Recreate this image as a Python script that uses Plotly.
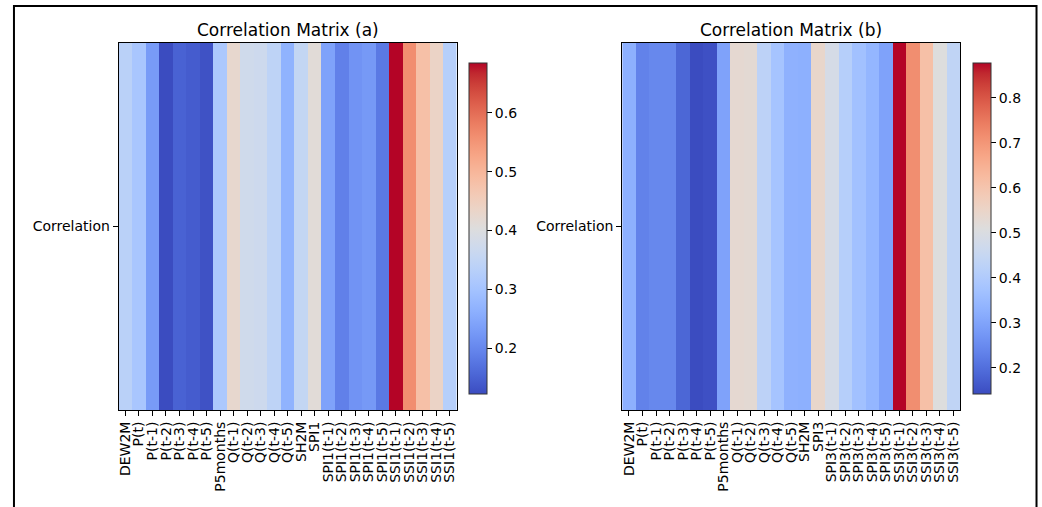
import plotly.graph_objects as go

# Feature names for each correlation panel
features_a = ["DEW2M", "P(t)", "P(t-1)", "P(t-2)", "P(t-3)", "P(t-4)", "P(t-5)", "P5months",
              "Q(t-1)", "Q(t-2)", "Q(t-3)", "Q(t-4)", "Q(t-5)", "SH2M", "SPI1",
              "SPI1(t-1)", "SPI1(t-2)", "SPI1(t-3)", "SPI1(t-4)", "SPI1(t-5)",
              "SSI1(t-1)", "SSI1(t-2)", "SSI1(t-3)", "SSI1(t-4)", "SSI1(t-5)"]
features_b = ["DEW2M", "P(t)", "P(t-1)", "P(t-2)", "P(t-3)", "P(t-4)", "P(t-5)", "P5months",
              "Q(t-1)", "Q(t-2)", "Q(t-3)", "Q(t-4)", "Q(t-5)", "SH2M", "SPI3",
              "SPI3(t-1)", "SPI3(t-2)", "SPI3(t-3)", "SPI3(t-4)", "SPI3(t-5)",
              "SSI3(t-1)", "SSI3(t-2)", "SSI3(t-3)", "SSI3(t-4)", "SSI3(t-5)"]

# Correlation of each feature with the target
corr_a = [0.336, 0.308, 0.229, 0.122, 0.150, 0.142, 0.130, 0.313,
          0.426, 0.375, 0.370, 0.344, 0.268, 0.353, 0.412,
          0.240, 0.190, 0.218, 0.226, 0.180,
          0.685, 0.561, 0.482, 0.437, 0.330]
corr_b = [0.326, 0.234, 0.245, 0.245, 0.186, 0.142, 0.149, 0.296,
          0.532, 0.528, 0.429, 0.377, 0.329, 0.326, 0.543,
          0.487, 0.414, 0.370, 0.340, 0.296,
          0.877, 0.715, 0.612, 0.510, 0.436]

row_label = ["Correlation"]

# Moreland cool-warm diverging map
_cw = [
    (0.2298057, 0.298717966, 0.753683153), (0.26623388, 0.353094838, 0.801466763),
    (0.30386891, 0.406535296, 0.84495867), (0.342804478, 0.458757618, 0.883725899),
    (0.38301334, 0.50941904, 0.917387822), (0.424369608, 0.558148092, 0.945619588),
    (0.46666708, 0.604562568, 0.968154911), (0.509635204, 0.648280772, 0.98478814),
    (0.552953156, 0.688929332, 0.995375608), (0.596262162, 0.726149107, 0.999836203),
    (0.639176211, 0.759599947, 0.998151185), (0.681291281, 0.788964712, 0.990363227),
    (0.722193294, 0.813952739, 0.976574709), (0.761464949, 0.834302879, 0.956945269),
    (0.798691636, 0.849786142, 0.931688648), (0.833466556, 0.860207984, 0.901068838),
    (0.865395197, 0.86541021, 0.865395561), (0.897787179, 0.848937047, 0.820880546),
    (0.924127593, 0.827384882, 0.774508472), (0.944468518, 0.800927443, 0.726736146),
    (0.958852946, 0.769767752, 0.678007945), (0.96732803, 0.734132809, 0.628751763),
    (0.969954137, 0.694266682, 0.579375448), (0.966811177, 0.650421156, 0.530263762),
    (0.958003065, 0.602842431, 0.481775914), (0.943660866, 0.551750968, 0.434243684),
    (0.923944917, 0.49730856, 0.387970225), (0.89904617, 0.439559467, 0.343229596),
    (0.869186849, 0.378313092, 0.300267182), (0.834620542, 0.312874446, 0.259301199),
    (0.795631745, 0.24128379, 0.220525627), (0.752534934, 0.157246067, 0.184115123),
    (0.705673158, 0.01555616, 0.150232812),
]
coolwarm = [[i / (len(_cw) - 1),
             "rgb(%d,%d,%d)" % tuple(round(c * 255) for c in rgb)]
            for i, rgb in enumerate(_cw)]

W, H = 1042, 507
FONT = "DejaVu Sans"


def px_x(v):
    return v / W


def px_y(v):
    return 1 - v / H


def colorbar(x_left):
    return dict(
        x=px_x(x_left), xanchor="left", xpad=0,
        y=px_y(228.5), yanchor="middle", len=331 / H, lenmode="fraction", ypad=0,
        thickness=18, thicknessmode="pixels",
        outlinecolor="#333333", outlinewidth=1,
        tick0=0, dtick=0.1, ticks="outside", ticklen=5, tickwidth=1,
        tickcolor="black", tickformat=".1f",
        tickfont=dict(family=FONT, size=14, color="black"),
    )


fig = go.Figure()
fig.add_trace(go.Heatmap(
    z=[corr_a], x=features_a, y=row_label, colorscale=coolwarm,
    zmin=min(corr_a), zmax=max(corr_a), colorbar=colorbar(468),
    xaxis="x", yaxis="y", hoverongaps=False,
))
fig.add_trace(go.Heatmap(
    z=[corr_b], x=features_b, y=row_label, colorscale=coolwarm,
    zmin=min(corr_b), zmax=max(corr_b), colorbar=colorbar(973.5),
    xaxis="x2", yaxis="y2", hoverongaps=False,
))

axis_common = dict(
    showgrid=False, zeroline=False, showline=True, mirror=True,
    linecolor="black", linewidth=1, ticks="outside", ticklen=5,
    tickcolor="black", tickfont=dict(family=FONT, size=14, color="black"),
)
ydom = [px_y(410), px_y(43)]
fig.update_layout(
    width=W, height=H, margin=dict(l=0, r=0, t=0, b=0),
    paper_bgcolor="white", plot_bgcolor="white",
    xaxis=dict(domain=[px_x(117), px_x(456)], anchor="y", tickangle=-90,
               tickmode="array", tickvals=features_a, ticktext=features_a, **axis_common),
    yaxis=dict(domain=ydom, anchor="x", **axis_common),
    xaxis2=dict(domain=[px_x(622), px_x(961)], anchor="y2", tickangle=-90,
                tickmode="array", tickvals=features_b, ticktext=features_b, **axis_common),
    yaxis2=dict(domain=ydom, anchor="x2", **axis_common),
    annotations=[
        dict(text="Correlation Matrix (a)", x=px_x(286.5), y=px_y(30), xref="paper",
             yref="paper", showarrow=False, xanchor="center", yanchor="middle",
             font=dict(family=FONT, size=17, color="black")),
        dict(text="Correlation Matrix (b)", x=px_x(791.5), y=px_y(30), xref="paper",
             yref="paper", showarrow=False, xanchor="center", yanchor="middle",
             font=dict(family=FONT, size=17, color="black")),
    ],
    shapes=[dict(type="rect", xref="paper", yref="paper",
                 x0=px_x(12), x1=px_x(1037.5), y0=-0.2, y1=px_y(6),
                 line=dict(color="black", width=2), fillcolor="rgba(0,0,0,0)")],
)

fig.write_html("out.html")
